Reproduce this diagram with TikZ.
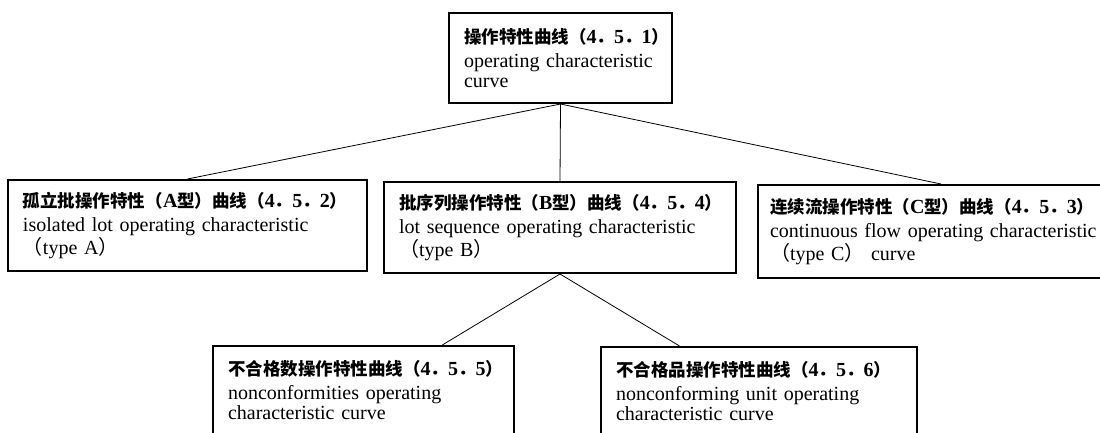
\documentclass[tikz,border=0pt]{standalone}
\usepackage{fontspec}
\setmainfont{Liberation Serif}
\newfontfamily\cjk{Noto Sans CJK SC}
\usetikzlibrary{calc}

\newcommand{\zh}[1]{{\cjk\bfseries\fontsize{17.5}{20}\selectfont #1}}
\newcommand{\pz}[1]{{\cjk #1}}
\newcommand{\clause}[3]{\zh{（}\textbf{#1}\zh{．}\textbf{#2}\zh{．}\textbf{#3}\zh{）}}

\begin{document}
\begin{tikzpicture}[x=1pt, y=-1pt,
  box/.style={draw, line width=2pt, anchor=north west, align=left,
    inner xsep=15pt, font=\fontsize{20}{20}\selectfont},
  link/.style={line width=0.8pt}]
  \useasboundingbox (0,0) rectangle (1100,432);
  \clip (0,0) rectangle (1100,432);

  % Draw the boxes
  \node[box, minimum width=223pt, minimum height=90pt, text width=193pt] (oc) at (448,12)
    {\zh{操作特性曲线}\clause{4}{5}{1}\\[4pt] operating characteristic\\ curve};
  \node[box, minimum width=359pt, minimum height=91pt, text width=329pt] (typeA) at (7,179)
    {\zh{孤立批操作特性（}\textbf{A}\zh{型）曲线}\clause{4}{5}{2}\\[4pt]
     isolated lot operating characteristic\\ \pz{（}type A\pz{）}};
  \node[box, minimum width=352pt, minimum height=91pt, text width=322pt] (typeB) at (383,181)
    {\zh{批序列操作特性（}\textbf{B}\zh{型）曲线}\clause{4}{5}{4}\\[4pt]
     lot sequence operating characteristic\\ \pz{（}type B\pz{）}};
  \node[box, minimum width=366pt, minimum height=93pt, text width=342pt, inner xsep=12pt] (typeC) at (757,184)
    {\zh{连续流操作特性（}\textbf{C}\zh{型）曲线}\clause{4}{5}{3}\\[4pt]
     continuous flow operating characteristic\\ \pz{（}type C\pz{）} curve};
  \node[box, minimum width=301pt, minimum height=88pt, text width=271pt] (nonc) at (212,345)
    {\zh{不合格数操作特性曲线}\clause{4}{5}{5}\\[4pt] nonconformities operating\\ characteristic curve};
  \node[box, minimum width=316pt, minimum height=88pt, text width=286pt] (unit) at (600,346)
    {\zh{不合格品操作特性曲线}\clause{4}{5}{6}\\[4pt] nonconforming unit operating\\ characteristic curve};

  % Draw the links
  \draw[link] (oc.south) -- (typeA.north);
  \draw[link] (oc.south) -- (typeB.north);
  \draw[link] (oc.south) -- (typeC.north);
  \draw[link] (typeB.south) -- ($(nonc.north west)!.76!(nonc.north east)$);
  \draw[link] (typeB.south) -- ($(unit.north west)!.25!(unit.north east)$);
\end{tikzpicture}
\end{document}
